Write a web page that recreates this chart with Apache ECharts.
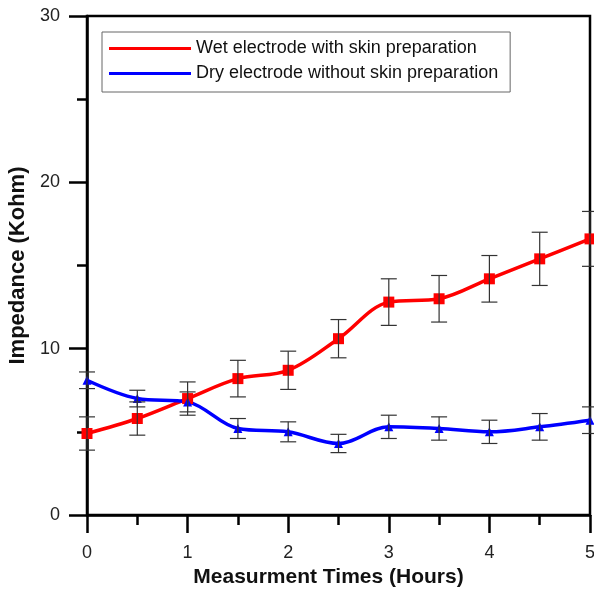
<!DOCTYPE html>
<html>
<head>
<meta charset="utf-8">
<script src="https://cdn.jsdelivr.net/npm/echarts@6/dist/echarts.min.js"></script>
<style>
  html, body { margin: 0; padding: 0; background: #fff; }
  #chart { width: 594px; height: 590px; }
</style>
</head>
<body>
<div id="chart"></div>
<script>
// hours
const times = [0, 0.5, 1, 1.5, 2, 2.5, 3, 3.5, 4, 4.5, 5];
// wet electrode, with skin preparation (Kohm)
const wetValues = [4.9, 5.8, 7.0, 8.2, 8.7, 10.6, 12.8, 13.0, 14.2, 15.4, 16.6];
const wetErrors = [1.0, 1.0, 1.0, 1.1, 1.15, 1.15, 1.4, 1.4, 1.4, 1.6, 1.65];
// dry electrode, without skin preparation (Kohm)
const dryValues = [8.1, 7.0, 6.8, 5.2, 5.0, 4.3, 5.3, 5.2, 5.0, 5.3, 5.7];
const dryErrors = [0.5, 0.5, 0.6, 0.6, 0.6, 0.55, 0.7, 0.7, 0.7, 0.8, 0.8];

const seriesNames = ['Wet electrode with skin preparation', 'Dry electrode without skin preparation'];
const FONT = '"Liberation Sans", Arial, sans-serif';

function toPoints(vals) {
  return times.map((t, i) => [t, vals[i]]);
}
function toErrData(vals, errs) {
  return times.map((t, i) => [t, vals[i] - errs[i], vals[i] + errs[i]]);
}

function errorBarRender(params, api) {
  const lo = api.coord([api.value(0), api.value(1)]);
  const hi = api.coord([api.value(0), api.value(2)]);
  const half = 8;
  const style = { stroke: '#333', lineWidth: 1.2 };
  return {
    type: 'group',
    children: [
      { type: 'line', shape: { x1: lo[0], y1: lo[1], x2: hi[0], y2: hi[1] }, style },
      { type: 'line', shape: { x1: lo[0] - half, y1: lo[1], x2: lo[0] + half, y2: lo[1] }, style },
      { type: 'line', shape: { x1: hi[0] - half, y1: hi[1], x2: hi[0] + half, y2: hi[1] }, style }
    ]
  };
}

const chart = echarts.init(document.getElementById('chart'));

chart.setOption({
  animation: false,
  backgroundColor: '#fff',
  textStyle: { fontFamily: FONT },
  grid: {
    left: 87, right: 4, top: 16, bottom: 75,
    outerBoundsMode: 'none',
    containLabel: false,
    show: true, borderColor: '#000', borderWidth: 2.5, backgroundColor: 'transparent'
  },
  legend: {
    orient: 'vertical',
    left: 102, top: 32,
    padding: [6, 12, 8, 7],
    itemGap: 4,
    itemWidth: 82,
    itemHeight: 3,
    icon: 'rect',
    borderColor: '#666',
    borderWidth: 1,
    textStyle: { fontSize: 18, color: '#111', fontFamily: FONT, lineHeight: 21 },
    data: seriesNames
  },
  xAxis: {
    type: 'value',
    min: 0, max: 5, interval: 1,
    name: 'Measurment Times (Hours)',
    nameLocation: 'middle',
    nameGap: 51,
    nameTextStyle: { fontSize: 21, fontWeight: 'bold', color: '#111', fontFamily: FONT, padding: [0, 20, 0, 0] },
    axisLine: { lineStyle: { color: '#000', width: 2.5 } },
    axisTick: { inside: false, length: 18, lineStyle: { color: '#000', width: 2.5 } },
    minorTick: { show: true, splitNumber: 2, length: 10, lineStyle: { color: '#000', width: 2.5 } },
    axisLabel: { fontSize: 18, color: '#222', margin: 29, fontFamily: FONT },
    splitLine: { show: false }
  },
  yAxis: {
    type: 'value',
    min: 0, max: 30, interval: 10,
    name: 'Impedance (Kohm)',
    nameLocation: 'middle',
    nameGap: 57,
    nameTextStyle: { fontSize: 22, fontWeight: 'bold', color: '#111', fontFamily: FONT },
    axisLine: { lineStyle: { color: '#000', width: 2.5 } },
    axisTick: { inside: false, length: 18, lineStyle: { color: '#000', width: 2.5 } },
    minorTick: { show: true, splitNumber: 2, length: 10, lineStyle: { color: '#000', width: 2.5 } },
    axisLabel: { fontSize: 18, color: '#222', margin: 27, fontFamily: FONT },
    splitLine: { show: false }
  },
  series: [
    {
      name: seriesNames[0],
      type: 'line',
      data: toPoints(wetValues),
      smooth: 0.35,
      symbol: 'rect',
      symbolSize: 11,
      lineStyle: { color: '#ff0000', width: 3.5 },
      itemStyle: { color: '#ff0000' },
      z: 3
    },
    {
      name: seriesNames[1],
      type: 'line',
      data: toPoints(dryValues),
      smooth: 0.35,
      symbol: 'triangle',
      symbolSize: 9,
      lineStyle: { color: '#0000ff', width: 3.5 },
      itemStyle: { color: '#0000ff' },
      z: 3
    },
    {
      type: 'custom',
      renderItem: errorBarRender,
      data: toErrData(wetValues, wetErrors),
      encode: { x: 0, y: [1, 2] },
      clip: false,
      z: 5
    },
    {
      type: 'custom',
      renderItem: errorBarRender,
      data: toErrData(dryValues, dryErrors),
      encode: { x: 0, y: [1, 2] },
      clip: false,
      z: 5
    }
  ]
});
</script>
</body>
</html>
